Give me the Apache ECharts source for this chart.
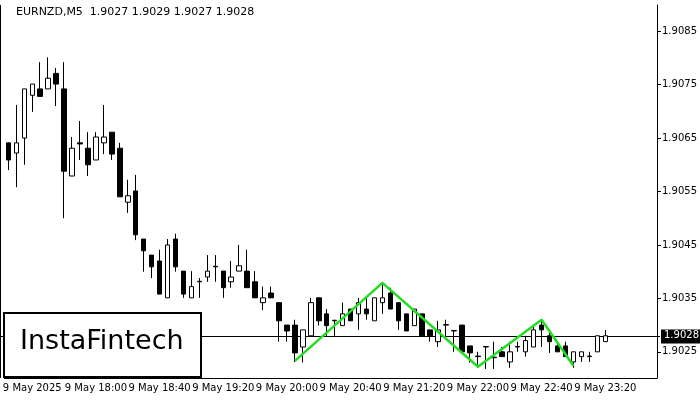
<!DOCTYPE html><html><head><meta charset="utf-8">
<script src="https://cdn.jsdelivr.net/npm/echarts@6/dist/echarts.min.js"></script>
<style>html,body{margin:0;padding:0;background:#fff}#c{width:700px;height:400px}</style></head><body><div id="c"></div>
<script>
const opens=[1.90641,1.90622,1.90650,1.90730,1.90742,1.90742,1.90771,1.90742,1.90579,1.90641,1.90631,1.90609,1.90641,1.90661,1.90631,1.90530,1.90551,1.90461,1.90431,1.90420,1.90351,1.90461,1.90401,1.90351,1.90381,1.90390,1.90409,1.90401,1.90381,1.90401,1.90401,1.90381,1.90342,1.90360,1.90342,1.90300,1.90300,1.90259,1.90280,1.90351,1.90321,1.90308,1.90299,1.90330,1.90321,1.90330,1.90308,1.90342,1.90360,1.90342,1.90321,1.90299,1.90321,1.90291,1.90269,1.90300,1.90289,1.90300,1.90261,1.90241,1.90259,1.90239,1.90250,1.90231,1.90259,1.90250,1.90259,1.90300,1.90280,1.90261,1.90261,1.90231,1.90241,1.90241,1.90250,1.90269];
const closes=[1.90609,1.90641,1.90742,1.90751,1.90728,1.90762,1.90751,1.90588,1.90631,1.90639,1.90600,1.90652,1.90652,1.90620,1.90540,1.90542,1.90469,1.90439,1.90409,1.90358,1.90450,1.90409,1.90358,1.90372,1.90382,1.90401,1.90410,1.90370,1.90390,1.90411,1.90370,1.90351,1.90351,1.90351,1.90308,1.90289,1.90248,1.90291,1.90342,1.90308,1.90299,1.90309,1.90321,1.90308,1.90342,1.90321,1.90351,1.90351,1.90330,1.90308,1.90289,1.90330,1.90280,1.90280,1.90291,1.90301,1.90290,1.90250,1.90248,1.90242,1.90260,1.90240,1.90241,1.90250,1.90260,1.90271,1.90291,1.90291,1.90269,1.90250,1.90241,1.90250,1.90250,1.90242,1.90280,1.90280];
const highs=[1.90641,1.90712,1.90742,1.90751,1.90792,1.90801,1.90781,1.90792,1.90652,1.90682,1.90661,1.90661,1.90712,1.90661,1.90641,1.90572,1.90581,1.90461,1.90431,1.90441,1.90461,1.90471,1.90401,1.90401,1.90388,1.90431,1.90431,1.90401,1.90420,1.90450,1.90441,1.90401,1.90372,1.90372,1.90342,1.90300,1.90310,1.90291,1.90351,1.90351,1.90330,1.90310,1.90342,1.90330,1.90351,1.90351,1.90351,1.90381,1.90370,1.90342,1.90321,1.90330,1.90321,1.90291,1.90308,1.90310,1.90290,1.90300,1.90261,1.90250,1.90260,1.90269,1.90259,1.90269,1.90269,1.90280,1.90300,1.90308,1.90291,1.90269,1.90269,1.90250,1.90250,1.90250,1.90280,1.90291];
const lows=[1.90590,1.90558,1.90600,1.90699,1.90728,1.90742,1.90710,1.90500,1.90579,1.90609,1.90579,1.90609,1.90620,1.90609,1.90540,1.90510,1.90459,1.90400,1.90388,1.90358,1.90351,1.90400,1.90351,1.90351,1.90351,1.90381,1.90381,1.90351,1.90370,1.90401,1.90370,1.90351,1.90328,1.90351,1.90269,1.90269,1.90231,1.90230,1.90280,1.90299,1.90280,1.90280,1.90299,1.90308,1.90291,1.90310,1.90308,1.90321,1.90330,1.90291,1.90289,1.90299,1.90280,1.90269,1.90259,1.90272,1.90250,1.90250,1.90230,1.90220,1.90218,1.90218,1.90241,1.90220,1.90250,1.90241,1.90259,1.90259,1.90248,1.90250,1.90241,1.90220,1.90231,1.90231,1.90250,1.90269];
const patternIdx=[36,47,59,67,71];
const patternVal=[1.90233,1.90379,1.90222,1.90310,1.90224];
const yTicks=[1.9025,1.9035,1.9045,1.9055,1.9065,1.9075,1.9085];
const lastPrice=1.9028;
const title='EURNZD,M5  1.9027 1.9029 1.9027 1.9028';
const SLOTS=82;
const cats=[];
for(let i=0;i<SLOTS;i++){const m=17*60+5+i*5;const hh=Math.floor(m/60)%24,mm=m%60;cats.push('9 May '+String(hh).padStart(2,'0')+':'+String(mm).padStart(2,'0'));}
cats[3]='9 May 2025';
const candles=opens.map((o,i)=>[o,closes[i],lows[i],highs[i]]);
const pat=new Array(SLOTS).fill(null);patternIdx.forEach((k,j)=>pat[k]=patternVal[j]);
const ch=echarts.init(document.getElementById('c'));
ch.setOption({animation:false,
grid:{left:0,right:40,top:5,bottom:22},
xAxis:{type:'category',data:cats,boundaryGap:true,
 axisLine:{lineStyle:{color:'#000'}},
 axisTick:{interval:(i)=>(i-3)%8===0,alignWithLabel:true,length:4,lineStyle:{color:'#000'}},
 axisLabel:{interval:(i)=>(i-3)%8===0,color:'#000',fontSize:10,fontFamily:'DejaVu Sans',margin:5},
 splitLine:{show:false}},
yAxis:{type:'value',position:'right',min:1.90201,max:1.90899,scale:true,
 axisLine:{show:true,lineStyle:{color:'#000'}},
 axisTick:{show:true,customValues:yTicks,length:4,lineStyle:{color:'#000'}},
 axisLabel:{customValues:yTicks,formatter:v=>v.toFixed(4),color:'#000',fontSize:10,fontFamily:'DejaVu Sans',margin:5},
 splitLine:{show:false}},
series:[{type:'candlestick',data:candles,barWidth:5,
 itemStyle:{color:'#fff',color0:'#000',borderColor:'#000',borderColor0:'#000',borderWidth:1}},
 {type:'line',data:pat,connectNulls:true,symbol:'none',lineStyle:{color:'#22dd22',width:2.5},z:5}]});
const py=Math.round(ch.convertToPixel({yAxisIndex:0},lastPrice))+0.5;
ch.setOption({graphic:[
 {type:'text',left:16,top:7,style:{text:title,fill:'#000',font:'11px DejaVu Sans'}},
 {type:'line',shape:{x1:0,y1:py,x2:660,y2:py},style:{stroke:'#000',lineWidth:1},z:1},
 {type:'line',shape:{x1:0.5,y1:5,x2:0.5,y2:378},style:{stroke:'#000',lineWidth:1},z:1},
 {type:'rect',left:3,top:312,shape:{width:197,height:64},style:{fill:'#fff',stroke:'#000',lineWidth:2},z:10},
 {type:'text',left:20,top:328,style:{text:'InstaFintech',fill:'#000',font:'27px "DejaVu Sans"'},z:11},
 {type:'rect',left:661,top:py-7,shape:{width:39,height:14},style:{fill:'#000'},z:20},
 {type:'text',left:664,top:py-6,style:{text:lastPrice.toFixed(4),fill:'#fff',font:'10px DejaVu Sans'},z:21}
]});
</script></body></html>
